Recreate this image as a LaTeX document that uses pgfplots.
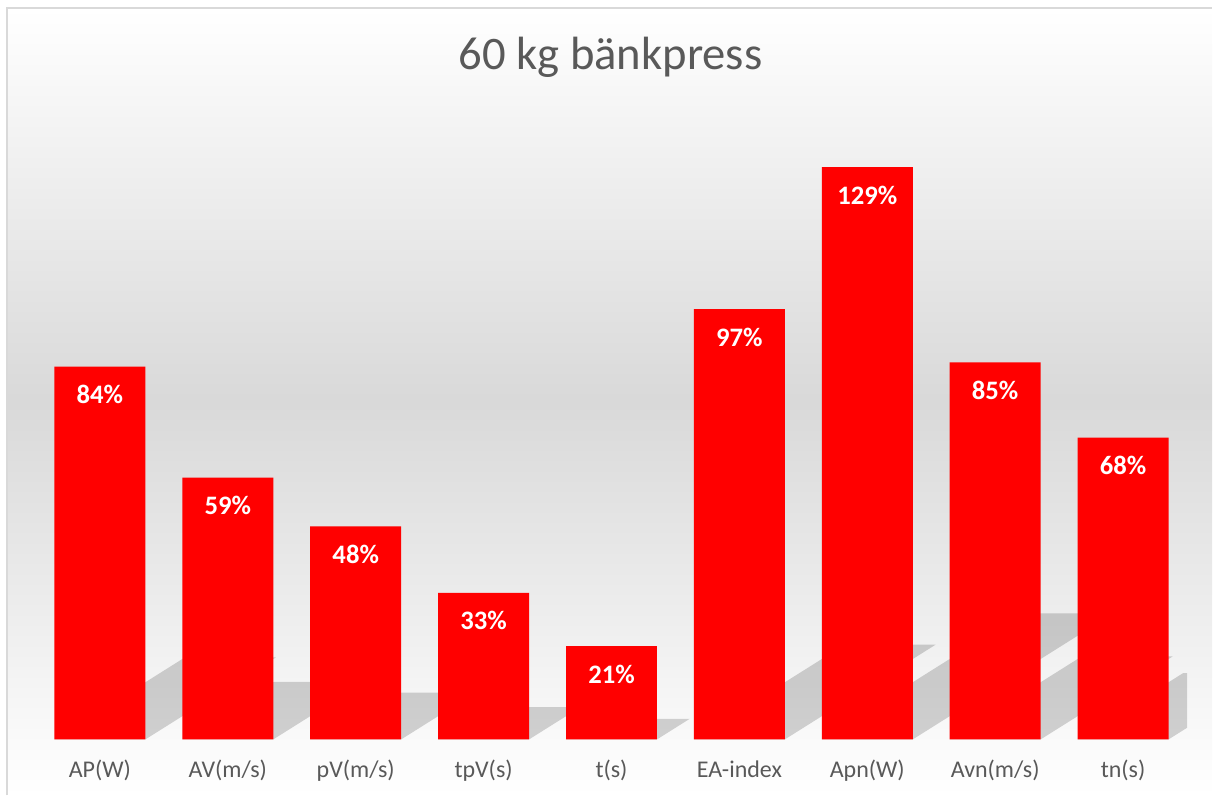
\documentclass[border=0pt]{standalone}
\usepackage{pgfplots}
\pgfplotsset{compat=1.18}
\usepackage{fontspec}
\setmainfont{Carlito}
\definecolor{txt}{HTML}{595959}
\definecolor{brd}{HTML}{D9D9D9}
\definecolor{barred}{HTML}{FF0000}
\begin{document}
\begin{tikzpicture}
\begin{axis}[
  set layers,
  scale only axis, width=864pt, height=466.2pt,
  xmin=-0.5, xmax=8.5, ymin=0, ymax=140,
  axis line style={draw=none},
  ytick=\empty,
  xtick={0,1,2,3,4,5,6,7,8},
  xticklabels={AP(W),AV(m/s),pV(m/s),tpV(s),t(s),EA-index,Apn(W),Avn(m/s),tn(s)},
  major tick length=0pt,
  xticklabel style={anchor=base, yshift=-28.5pt, text=txt, font=\fontsize{18}{22}\selectfont},
  clip=false,
]
% page and chart-area background (in axis units: 1 x unit = 128 px, 1 y unit = 4.44 px)
\begin{pgfonlayer}{axis background}
\fill[white] (axis cs:-0.78125,-12.613) rectangle (axis cs:8.6953,166.667);
\shade[top color=white, bottom color=white, middle color=black!15] (axis cs:-0.7266,-12.613) rectangle (axis cs:8.6953,164.86);
\draw[brd, line width=1.5pt] (axis cs:-0.7266,-12.613) -- (axis cs:-0.7266,164.86) -- (axis cs:8.6953,164.86);
\node[text=txt, font=\fontsize{35}{42}\selectfont, anchor=base] at (axis cs:3.992,150.9) {60 kg bänkpress};
\end{pgfonlayer}
% shadows (perspective, derived from bar values)
\pgfplotsset{shadowstyle/.style={fill=black, fill opacity=0.17, draw=none, forget plot}}
\addplot[shadowstyle] coordinates {(-0.3555,0) (0.3555,0) (1.3755,18.48) (0.6645,18.48)};
\addplot[shadowstyle] coordinates {(0.6445,0) (1.3555,0) (2.0715,12.98) (1.3605,12.98)};
\addplot[shadowstyle] coordinates {(1.6445,0) (2.3555,0) (2.9385,10.56) (2.2275,10.56)};
\addplot[shadowstyle] coordinates {(2.6445,0) (3.3555,0) (3.7565,7.26) (3.0455,7.26)};
\addplot[shadowstyle] coordinates {(3.6445,0) (4.3555,0) (4.6105,4.62) (3.8995,4.62)};
\addplot[shadowstyle] coordinates {(4.6445,0) (5.3555,0) (6.5335,21.34) (5.8225,21.34)};
\addplot[shadowstyle] coordinates {(5.6445,0) (6.3555,0) (7.9215,28.38) (7.2105,28.38)};
\addplot[shadowstyle] coordinates {(6.6445,0) (7.3555,0) (8.3875,18.70) (7.6765,18.70)};
\addplot[shadowstyle] coordinates {(7.6445,0) (8.3555,0) (8.5,2.617) (8.5,14.96) (8.4705,14.96)};
% bars
\addplot[ybar, bar width=68.25pt, bar shift=0pt, fill=barred, draw=none,
  nodes near coords={\pgfmathprintnumber[assume math mode=true,fixed,precision=0]{\pgfplotspointmeta}\%},
  every node near coord/.append style={anchor=base, yshift=-27.75pt, text=white, font=\bfseries\fontsize{20}{24}\selectfont},
] coordinates {(0,84) (1,59) (2,48) (3,33) (4,21) (5,97) (6,129) (7,85) (8,68)};
\end{axis}
\end{tikzpicture}
\end{document}
